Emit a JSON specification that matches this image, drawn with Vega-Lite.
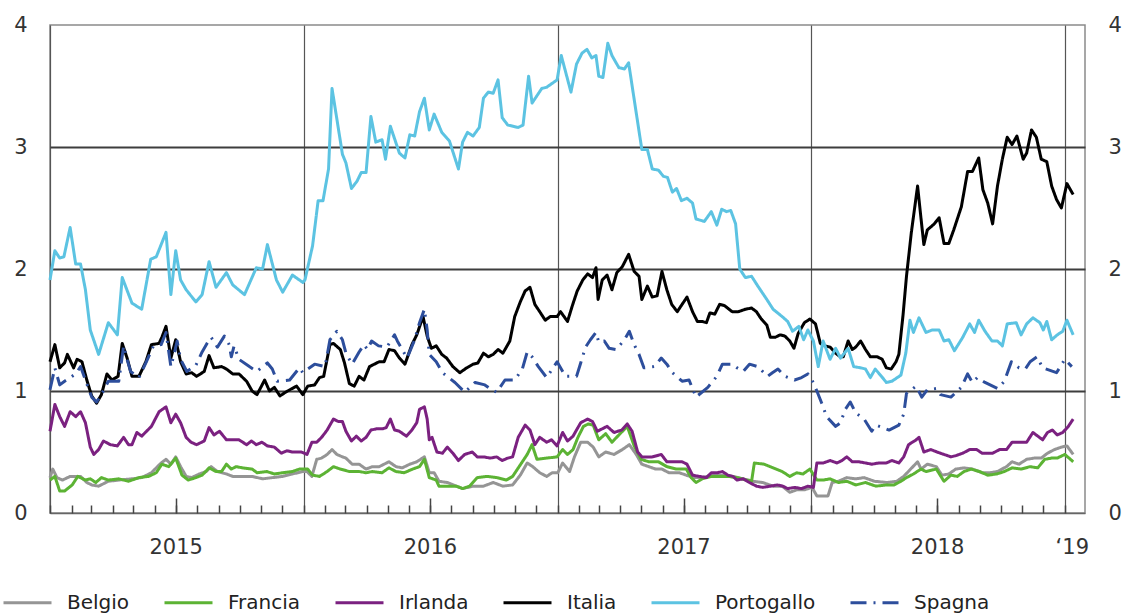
{
"$schema":"https://vega.github.io/schema/vega-lite/v6.json",
"width":1035,"height":488,
"autosize":{"type":"none"},
"padding":{"left":50,"top":25,"right":37,"bottom":101},
"background":"white",
"config":{
 "view":{"stroke":"#8a8a8a","strokeWidth":1.5},
 "axis":{"labelFont":"DejaVu Sans","labelFontSize":21,"labelColor":"#333333","title":null},
 "legend":{"symbolType":"stroke","symbolSize":2304,"symbolStrokeWidth":3,"labelFont":"DejaVu Sans","labelFontSize":20,"labelColor":"#222222","columnPadding":28,"labelOffset":14}
},
"data":{"values":[
{"s":"Belgio","d":"2015-01-01","v":0.29},{"s":"Belgio","d":"2015-01-05","v":0.36},{"s":"Belgio","d":"2015-01-11","v":0.29},{"s":"Belgio","d":"2015-01-19","v":0.27},{"s":"Belgio","d":"2015-01-30","v":0.30},{"s":"Belgio","d":"2015-02-14","v":0.30},{"s":"Belgio","d":"2015-02-23","v":0.25},{"s":"Belgio","d":"2015-03-02","v":0.23},{"s":"Belgio","d":"2015-03-12","v":0.22},{"s":"Belgio","d":"2015-03-26","v":0.26},{"s":"Belgio","d":"2015-04-10","v":0.27},{"s":"Belgio","d":"2015-04-29","v":0.28},{"s":"Belgio","d":"2015-05-13","v":0.29},{"s":"Belgio","d":"2015-05-27","v":0.33},{"s":"Belgio","d":"2015-06-10","v":0.41},{"s":"Belgio","d":"2015-06-17","v":0.44},{"s":"Belgio","d":"2015-06-24","v":0.40},{"s":"Belgio","d":"2015-07-01","v":0.46},{"s":"Belgio","d":"2015-07-08","v":0.38},{"s":"Belgio","d":"2015-07-16","v":0.30},{"s":"Belgio","d":"2015-07-24","v":0.29},{"s":"Belgio","d":"2015-08-04","v":0.32},{"s":"Belgio","d":"2015-08-14","v":0.34},{"s":"Belgio","d":"2015-08-21","v":0.38},{"s":"Belgio","d":"2015-08-30","v":0.34},{"s":"Belgio","d":"2015-09-12","v":0.32},{"s":"Belgio","d":"2015-09-21","v":0.30},{"s":"Belgio","d":"2015-10-05","v":0.30},{"s":"Belgio","d":"2015-10-19","v":0.30},{"s":"Belgio","d":"2015-11-03","v":0.28},{"s":"Belgio","d":"2015-11-17","v":0.29},{"s":"Belgio","d":"2015-12-02","v":0.30},{"s":"Belgio","d":"2015-12-16","v":0.32},{"s":"Belgio","d":"2015-12-31","v":0.34},
{"s":"Belgio","d":"2016-01-06","v":0.34},{"s":"Belgio","d":"2016-01-13","v":0.30},{"s":"Belgio","d":"2016-01-20","v":0.44},{"s":"Belgio","d":"2016-01-27","v":0.45},{"s":"Belgio","d":"2016-02-04","v":0.48},{"s":"Belgio","d":"2016-02-11","v":0.52},{"s":"Belgio","d":"2016-02-18","v":0.48},{"s":"Belgio","d":"2016-02-26","v":0.46},{"s":"Belgio","d":"2016-03-02","v":0.45},{"s":"Belgio","d":"2016-03-11","v":0.40},{"s":"Belgio","d":"2016-03-21","v":0.40},{"s":"Belgio","d":"2016-03-31","v":0.36},{"s":"Belgio","d":"2016-04-09","v":0.38},{"s":"Belgio","d":"2016-04-19","v":0.38},{"s":"Belgio","d":"2016-05-03","v":0.42},{"s":"Belgio","d":"2016-05-13","v":0.38},{"s":"Belgio","d":"2016-05-22","v":0.37},{"s":"Belgio","d":"2016-06-02","v":0.40},{"s":"Belgio","d":"2016-06-12","v":0.42},{"s":"Belgio","d":"2016-06-23","v":0.46},{"s":"Belgio","d":"2016-06-30","v":0.33},{"s":"Belgio","d":"2016-07-07","v":0.33},{"s":"Belgio","d":"2016-07-14","v":0.26},{"s":"Belgio","d":"2016-07-26","v":0.25},{"s":"Belgio","d":"2016-08-08","v":0.22},{"s":"Belgio","d":"2016-08-17","v":0.20},{"s":"Belgio","d":"2016-09-01","v":0.22},{"s":"Belgio","d":"2016-09-16","v":0.22},{"s":"Belgio","d":"2016-09-30","v":0.25},{"s":"Belgio","d":"2016-10-14","v":0.22},{"s":"Belgio","d":"2016-10-28","v":0.23},{"s":"Belgio","d":"2016-11-08","v":0.31},{"s":"Belgio","d":"2016-11-18","v":0.41},{"s":"Belgio","d":"2016-11-26","v":0.38},{"s":"Belgio","d":"2016-12-06","v":0.33},{"s":"Belgio","d":"2016-12-16","v":0.30},{"s":"Belgio","d":"2016-12-24","v":0.33},
{"s":"Belgio","d":"2017-01-01","v":0.33},{"s":"Belgio","d":"2017-01-08","v":0.41},{"s":"Belgio","d":"2017-01-18","v":0.34},{"s":"Belgio","d":"2017-01-25","v":0.46},{"s":"Belgio","d":"2017-02-03","v":0.58},{"s":"Belgio","d":"2017-02-13","v":0.58},{"s":"Belgio","d":"2017-02-21","v":0.54},{"s":"Belgio","d":"2017-03-01","v":0.46},{"s":"Belgio","d":"2017-03-11","v":0.50},{"s":"Belgio","d":"2017-03-23","v":0.48},{"s":"Belgio","d":"2017-04-04","v":0.52},{"s":"Belgio","d":"2017-04-14","v":0.56},{"s":"Belgio","d":"2017-04-24","v":0.48},{"s":"Belgio","d":"2017-05-02","v":0.40},{"s":"Belgio","d":"2017-05-12","v":0.38},{"s":"Belgio","d":"2017-05-22","v":0.36},{"s":"Belgio","d":"2017-05-31","v":0.36},{"s":"Belgio","d":"2017-06-10","v":0.33},{"s":"Belgio","d":"2017-06-25","v":0.33},{"s":"Belgio","d":"2017-07-05","v":0.31},{"s":"Belgio","d":"2017-07-16","v":0.29},{"s":"Belgio","d":"2017-07-28","v":0.29},{"s":"Belgio","d":"2017-08-12","v":0.31},{"s":"Belgio","d":"2017-08-26","v":0.31},{"s":"Belgio","d":"2017-09-10","v":0.30},{"s":"Belgio","d":"2017-09-25","v":0.28},{"s":"Belgio","d":"2017-10-09","v":0.26},{"s":"Belgio","d":"2017-10-23","v":0.25},{"s":"Belgio","d":"2017-11-07","v":0.22},{"s":"Belgio","d":"2017-11-20","v":0.22},{"s":"Belgio","d":"2017-12-01","v":0.17},{"s":"Belgio","d":"2017-12-11","v":0.19},{"s":"Belgio","d":"2017-12-22","v":0.19},
{"s":"Belgio","d":"2018-01-02","v":0.21},{"s":"Belgio","d":"2018-01-09","v":0.14},{"s":"Belgio","d":"2018-01-16","v":0.14},{"s":"Belgio","d":"2018-01-25","v":0.14},{"s":"Belgio","d":"2018-01-31","v":0.25},{"s":"Belgio","d":"2018-02-09","v":0.26},{"s":"Belgio","d":"2018-02-21","v":0.29},{"s":"Belgio","d":"2018-03-06","v":0.28},{"s":"Belgio","d":"2018-03-18","v":0.29},{"s":"Belgio","d":"2018-04-02","v":0.26},{"s":"Belgio","d":"2018-04-20","v":0.25},{"s":"Belgio","d":"2018-05-04","v":0.26},{"s":"Belgio","d":"2018-05-14","v":0.30},{"s":"Belgio","d":"2018-05-24","v":0.36},{"s":"Belgio","d":"2018-06-03","v":0.42},{"s":"Belgio","d":"2018-06-08","v":0.36},{"s":"Belgio","d":"2018-06-17","v":0.40},{"s":"Belgio","d":"2018-06-30","v":0.38},{"s":"Belgio","d":"2018-07-08","v":0.31},{"s":"Belgio","d":"2018-07-18","v":0.32},{"s":"Belgio","d":"2018-07-28","v":0.36},{"s":"Belgio","d":"2018-08-09","v":0.37},{"s":"Belgio","d":"2018-08-21","v":0.36},{"s":"Belgio","d":"2018-09-04","v":0.33},{"s":"Belgio","d":"2018-09-15","v":0.33},{"s":"Belgio","d":"2018-09-26","v":0.34},{"s":"Belgio","d":"2018-10-09","v":0.38},{"s":"Belgio","d":"2018-10-17","v":0.42},{"s":"Belgio","d":"2018-10-27","v":0.40},{"s":"Belgio","d":"2018-11-07","v":0.44},{"s":"Belgio","d":"2018-11-18","v":0.45},{"s":"Belgio","d":"2018-11-28","v":0.45},{"s":"Belgio","d":"2018-12-07","v":0.49},{"s":"Belgio","d":"2018-12-17","v":0.52},{"s":"Belgio","d":"2018-12-27","v":0.54},{"s":"Belgio","d":"2019-01-04","v":0.55},{"s":"Belgio","d":"2019-01-13","v":0.48},
{"s":"Francia","d":"2015-01-01","v":0.27},{"s":"Francia","d":"2015-01-08","v":0.30},{"s":"Francia","d":"2015-01-15","v":0.18},{"s":"Francia","d":"2015-01-22","v":0.18},{"s":"Francia","d":"2015-02-02","v":0.23},{"s":"Francia","d":"2015-02-10","v":0.30},{"s":"Francia","d":"2015-02-21","v":0.27},{"s":"Francia","d":"2015-02-28","v":0.28},{"s":"Francia","d":"2015-03-08","v":0.25},{"s":"Francia","d":"2015-03-16","v":0.29},{"s":"Francia","d":"2015-03-26","v":0.27},{"s":"Francia","d":"2015-04-10","v":0.28},{"s":"Francia","d":"2015-04-24","v":0.26},{"s":"Francia","d":"2015-05-09","v":0.29},{"s":"Francia","d":"2015-05-23","v":0.30},{"s":"Francia","d":"2015-06-03","v":0.33},{"s":"Francia","d":"2015-06-11","v":0.40},{"s":"Francia","d":"2015-06-21","v":0.38},{"s":"Francia","d":"2015-07-01","v":0.45},{"s":"Francia","d":"2015-07-10","v":0.31},{"s":"Francia","d":"2015-07-19","v":0.27},{"s":"Francia","d":"2015-07-30","v":0.29},{"s":"Francia","d":"2015-08-08","v":0.31},{"s":"Francia","d":"2015-08-18","v":0.37},{"s":"Francia","d":"2015-08-28","v":0.34},{"s":"Francia","d":"2015-09-05","v":0.34},{"s":"Francia","d":"2015-09-12","v":0.40},{"s":"Francia","d":"2015-09-19","v":0.36},{"s":"Francia","d":"2015-09-26","v":0.38},{"s":"Francia","d":"2015-10-05","v":0.37},{"s":"Francia","d":"2015-10-19","v":0.36},{"s":"Francia","d":"2015-10-26","v":0.33},{"s":"Francia","d":"2015-11-09","v":0.34},{"s":"Francia","d":"2015-11-20","v":0.32},{"s":"Francia","d":"2015-12-02","v":0.33},{"s":"Francia","d":"2015-12-16","v":0.34},{"s":"Francia","d":"2015-12-26","v":0.36},
{"s":"Francia","d":"2016-01-07","v":0.36},{"s":"Francia","d":"2016-01-14","v":0.31},{"s":"Francia","d":"2016-01-24","v":0.30},{"s":"Francia","d":"2016-02-04","v":0.34},{"s":"Francia","d":"2016-02-13","v":0.38},{"s":"Francia","d":"2016-02-23","v":0.36},{"s":"Francia","d":"2016-03-07","v":0.34},{"s":"Francia","d":"2016-03-21","v":0.34},{"s":"Francia","d":"2016-03-31","v":0.33},{"s":"Francia","d":"2016-04-09","v":0.34},{"s":"Francia","d":"2016-04-23","v":0.33},{"s":"Francia","d":"2016-05-03","v":0.37},{"s":"Francia","d":"2016-05-13","v":0.34},{"s":"Francia","d":"2016-05-25","v":0.33},{"s":"Francia","d":"2016-06-06","v":0.36},{"s":"Francia","d":"2016-06-16","v":0.38},{"s":"Francia","d":"2016-06-23","v":0.44},{"s":"Francia","d":"2016-06-30","v":0.29},{"s":"Francia","d":"2016-07-10","v":0.27},{"s":"Francia","d":"2016-07-14","v":0.22},{"s":"Francia","d":"2016-07-26","v":0.22},{"s":"Francia","d":"2016-08-08","v":0.22},{"s":"Francia","d":"2016-08-17","v":0.20},{"s":"Francia","d":"2016-08-27","v":0.22},{"s":"Francia","d":"2016-09-07","v":0.29},{"s":"Francia","d":"2016-09-21","v":0.30},{"s":"Francia","d":"2016-10-05","v":0.29},{"s":"Francia","d":"2016-10-19","v":0.27},{"s":"Francia","d":"2016-10-28","v":0.30},{"s":"Francia","d":"2016-11-11","v":0.42},{"s":"Francia","d":"2016-11-18","v":0.48},{"s":"Francia","d":"2016-11-25","v":0.56},{"s":"Francia","d":"2016-12-02","v":0.44},{"s":"Francia","d":"2016-12-16","v":0.45},{"s":"Francia","d":"2016-12-31","v":0.46},
{"s":"Francia","d":"2017-01-08","v":0.52},{"s":"Francia","d":"2017-01-15","v":0.48},{"s":"Francia","d":"2017-01-23","v":0.52},{"s":"Francia","d":"2017-01-30","v":0.62},{"s":"Francia","d":"2017-02-07","v":0.71},{"s":"Francia","d":"2017-02-14","v":0.73},{"s":"Francia","d":"2017-02-21","v":0.72},{"s":"Francia","d":"2017-03-01","v":0.60},{"s":"Francia","d":"2017-03-11","v":0.65},{"s":"Francia","d":"2017-03-20","v":0.58},{"s":"Francia","d":"2017-03-30","v":0.64},{"s":"Francia","d":"2017-04-11","v":0.71},{"s":"Francia","d":"2017-04-21","v":0.55},{"s":"Francia","d":"2017-05-01","v":0.44},{"s":"Francia","d":"2017-05-12","v":0.42},{"s":"Francia","d":"2017-05-26","v":0.42},{"s":"Francia","d":"2017-06-07","v":0.38},{"s":"Francia","d":"2017-06-21","v":0.36},{"s":"Francia","d":"2017-07-05","v":0.36},{"s":"Francia","d":"2017-07-12","v":0.29},{"s":"Francia","d":"2017-07-19","v":0.25},{"s":"Francia","d":"2017-07-28","v":0.28},{"s":"Francia","d":"2017-08-10","v":0.30},{"s":"Francia","d":"2017-08-22","v":0.30},{"s":"Francia","d":"2017-09-03","v":0.30},{"s":"Francia","d":"2017-09-16","v":0.29},{"s":"Francia","d":"2017-09-30","v":0.27},{"s":"Francia","d":"2017-10-07","v":0.26},{"s":"Francia","d":"2017-10-11","v":0.41},{"s":"Francia","d":"2017-10-25","v":0.40},{"s":"Francia","d":"2017-11-07","v":0.37},{"s":"Francia","d":"2017-11-20","v":0.34},{"s":"Francia","d":"2017-12-01","v":0.30},{"s":"Francia","d":"2017-12-11","v":0.33},{"s":"Francia","d":"2017-12-20","v":0.32},{"s":"Francia","d":"2017-12-30","v":0.36},
{"s":"Francia","d":"2018-01-09","v":0.27},{"s":"Francia","d":"2018-01-18","v":0.27},{"s":"Francia","d":"2018-01-28","v":0.28},{"s":"Francia","d":"2018-02-09","v":0.25},{"s":"Francia","d":"2018-02-21","v":0.26},{"s":"Francia","d":"2018-03-06","v":0.23},{"s":"Francia","d":"2018-03-20","v":0.25},{"s":"Francia","d":"2018-04-04","v":0.22},{"s":"Francia","d":"2018-04-19","v":0.23},{"s":"Francia","d":"2018-04-30","v":0.23},{"s":"Francia","d":"2018-05-10","v":0.26},{"s":"Francia","d":"2018-05-18","v":0.29},{"s":"Francia","d":"2018-05-28","v":0.32},{"s":"Francia","d":"2018-06-08","v":0.36},{"s":"Francia","d":"2018-06-15","v":0.34},{"s":"Francia","d":"2018-06-30","v":0.36},{"s":"Francia","d":"2018-07-11","v":0.26},{"s":"Francia","d":"2018-07-21","v":0.31},{"s":"Francia","d":"2018-07-30","v":0.30},{"s":"Francia","d":"2018-08-09","v":0.34},{"s":"Francia","d":"2018-08-19","v":0.36},{"s":"Francia","d":"2018-08-31","v":0.34},{"s":"Francia","d":"2018-09-12","v":0.31},{"s":"Francia","d":"2018-09-25","v":0.32},{"s":"Francia","d":"2018-10-06","v":0.34},{"s":"Francia","d":"2018-10-17","v":0.37},{"s":"Francia","d":"2018-10-30","v":0.36},{"s":"Francia","d":"2018-11-12","v":0.38},{"s":"Francia","d":"2018-11-23","v":0.37},{"s":"Francia","d":"2018-12-03","v":0.44},{"s":"Francia","d":"2018-12-13","v":0.45},{"s":"Francia","d":"2018-12-21","v":0.45},{"s":"Francia","d":"2019-01-01","v":0.48},{"s":"Francia","d":"2019-01-13","v":0.42},
{"s":"Irlanda","d":"2015-01-01","v":0.67},{"s":"Irlanda","d":"2015-01-08","v":0.89},{"s":"Irlanda","d":"2015-01-15","v":0.79},{"s":"Irlanda","d":"2015-01-22","v":0.71},{"s":"Irlanda","d":"2015-01-30","v":0.83},{"s":"Irlanda","d":"2015-02-07","v":0.79},{"s":"Irlanda","d":"2015-02-14","v":0.83},{"s":"Irlanda","d":"2015-02-21","v":0.74},{"s":"Irlanda","d":"2015-02-28","v":0.54},{"s":"Irlanda","d":"2015-03-05","v":0.48},{"s":"Irlanda","d":"2015-03-12","v":0.52},{"s":"Irlanda","d":"2015-03-19","v":0.59},{"s":"Irlanda","d":"2015-03-29","v":0.56},{"s":"Irlanda","d":"2015-04-08","v":0.55},{"s":"Irlanda","d":"2015-04-17","v":0.62},{"s":"Irlanda","d":"2015-04-24","v":0.56},{"s":"Irlanda","d":"2015-04-29","v":0.56},{"s":"Irlanda","d":"2015-05-06","v":0.66},{"s":"Irlanda","d":"2015-05-13","v":0.63},{"s":"Irlanda","d":"2015-05-20","v":0.67},{"s":"Irlanda","d":"2015-05-27","v":0.71},{"s":"Irlanda","d":"2015-06-07","v":0.83},{"s":"Irlanda","d":"2015-06-17","v":0.87},{"s":"Irlanda","d":"2015-06-24","v":0.74},{"s":"Irlanda","d":"2015-07-01","v":0.81},{"s":"Irlanda","d":"2015-07-08","v":0.74},{"s":"Irlanda","d":"2015-07-16","v":0.62},{"s":"Irlanda","d":"2015-07-23","v":0.58},{"s":"Irlanda","d":"2015-07-31","v":0.56},{"s":"Irlanda","d":"2015-08-11","v":0.59},{"s":"Irlanda","d":"2015-08-18","v":0.70},{"s":"Irlanda","d":"2015-08-25","v":0.64},{"s":"Irlanda","d":"2015-09-02","v":0.67},{"s":"Irlanda","d":"2015-09-12","v":0.60},{"s":"Irlanda","d":"2015-09-21","v":0.60},{"s":"Irlanda","d":"2015-09-30","v":0.60},{"s":"Irlanda","d":"2015-10-11","v":0.56},{"s":"Irlanda","d":"2015-10-18","v":0.59},{"s":"Irlanda","d":"2015-10-25","v":0.56},{"s":"Irlanda","d":"2015-11-02","v":0.58},{"s":"Irlanda","d":"2015-11-10","v":0.55},{"s":"Irlanda","d":"2015-11-20","v":0.54},{"s":"Irlanda","d":"2015-11-30","v":0.49},{"s":"Irlanda","d":"2015-12-08","v":0.51},{"s":"Irlanda","d":"2015-12-16","v":0.50},{"s":"Irlanda","d":"2015-12-29","v":0.50},
{"s":"Irlanda","d":"2016-01-06","v":0.48},{"s":"Irlanda","d":"2016-01-13","v":0.58},{"s":"Irlanda","d":"2016-01-20","v":0.58},{"s":"Irlanda","d":"2016-01-27","v":0.62},{"s":"Irlanda","d":"2016-02-04","v":0.68},{"s":"Irlanda","d":"2016-02-13","v":0.77},{"s":"Irlanda","d":"2016-02-20","v":0.75},{"s":"Irlanda","d":"2016-02-26","v":0.75},{"s":"Irlanda","d":"2016-03-02","v":0.67},{"s":"Irlanda","d":"2016-03-10","v":0.59},{"s":"Irlanda","d":"2016-03-17","v":0.63},{"s":"Irlanda","d":"2016-03-24","v":0.59},{"s":"Irlanda","d":"2016-03-31","v":0.62},{"s":"Irlanda","d":"2016-04-07","v":0.68},{"s":"Irlanda","d":"2016-04-15","v":0.69},{"s":"Irlanda","d":"2016-04-24","v":0.69},{"s":"Irlanda","d":"2016-04-29","v":0.70},{"s":"Irlanda","d":"2016-05-05","v":0.77},{"s":"Irlanda","d":"2016-05-11","v":0.68},{"s":"Irlanda","d":"2016-05-18","v":0.67},{"s":"Irlanda","d":"2016-05-28","v":0.63},{"s":"Irlanda","d":"2016-06-05","v":0.68},{"s":"Irlanda","d":"2016-06-12","v":0.74},{"s":"Irlanda","d":"2016-06-16","v":0.85},{"s":"Irlanda","d":"2016-06-23","v":0.87},{"s":"Irlanda","d":"2016-06-27","v":0.77},{"s":"Irlanda","d":"2016-06-30","v":0.60},{"s":"Irlanda","d":"2016-07-04","v":0.62},{"s":"Irlanda","d":"2016-07-11","v":0.50},{"s":"Irlanda","d":"2016-07-19","v":0.49},{"s":"Irlanda","d":"2016-07-26","v":0.54},{"s":"Irlanda","d":"2016-08-03","v":0.49},{"s":"Irlanda","d":"2016-08-11","v":0.43},{"s":"Irlanda","d":"2016-08-20","v":0.48},{"s":"Irlanda","d":"2016-08-31","v":0.50},{"s":"Irlanda","d":"2016-09-07","v":0.46},{"s":"Irlanda","d":"2016-09-16","v":0.46},{"s":"Irlanda","d":"2016-09-26","v":0.45},{"s":"Irlanda","d":"2016-10-05","v":0.46},{"s":"Irlanda","d":"2016-10-13","v":0.43},{"s":"Irlanda","d":"2016-10-21","v":0.45},{"s":"Irlanda","d":"2016-10-28","v":0.46},{"s":"Irlanda","d":"2016-11-05","v":0.62},{"s":"Irlanda","d":"2016-11-15","v":0.72},{"s":"Irlanda","d":"2016-11-22","v":0.68},{"s":"Irlanda","d":"2016-11-29","v":0.56},{"s":"Irlanda","d":"2016-12-06","v":0.62},{"s":"Irlanda","d":"2016-12-16","v":0.58},{"s":"Irlanda","d":"2016-12-23","v":0.60},{"s":"Irlanda","d":"2016-12-31","v":0.55},
{"s":"Irlanda","d":"2017-01-08","v":0.66},{"s":"Irlanda","d":"2017-01-15","v":0.59},{"s":"Irlanda","d":"2017-01-23","v":0.63},{"s":"Irlanda","d":"2017-02-03","v":0.74},{"s":"Irlanda","d":"2017-02-13","v":0.77},{"s":"Irlanda","d":"2017-02-20","v":0.75},{"s":"Irlanda","d":"2017-02-27","v":0.67},{"s":"Irlanda","d":"2017-03-13","v":0.71},{"s":"Irlanda","d":"2017-03-23","v":0.66},{"s":"Irlanda","d":"2017-04-03","v":0.68},{"s":"Irlanda","d":"2017-04-11","v":0.73},{"s":"Irlanda","d":"2017-04-18","v":0.67},{"s":"Irlanda","d":"2017-04-26","v":0.50},{"s":"Irlanda","d":"2017-05-02","v":0.46},{"s":"Irlanda","d":"2017-05-17","v":0.46},{"s":"Irlanda","d":"2017-05-30","v":0.48},{"s":"Irlanda","d":"2017-06-07","v":0.42},{"s":"Irlanda","d":"2017-06-15","v":0.42},{"s":"Irlanda","d":"2017-06-29","v":0.42},{"s":"Irlanda","d":"2017-07-06","v":0.40},{"s":"Irlanda","d":"2017-07-14","v":0.31},{"s":"Irlanda","d":"2017-07-24","v":0.30},{"s":"Irlanda","d":"2017-08-03","v":0.29},{"s":"Irlanda","d":"2017-08-10","v":0.33},{"s":"Irlanda","d":"2017-08-19","v":0.33},{"s":"Irlanda","d":"2017-08-26","v":0.34},{"s":"Irlanda","d":"2017-09-03","v":0.31},{"s":"Irlanda","d":"2017-09-10","v":0.30},{"s":"Irlanda","d":"2017-09-16","v":0.27},{"s":"Irlanda","d":"2017-09-25","v":0.28},{"s":"Irlanda","d":"2017-10-04","v":0.25},{"s":"Irlanda","d":"2017-10-14","v":0.22},{"s":"Irlanda","d":"2017-10-23","v":0.21},{"s":"Irlanda","d":"2017-11-03","v":0.22},{"s":"Irlanda","d":"2017-11-13","v":0.23},{"s":"Irlanda","d":"2017-11-21","v":0.22},{"s":"Irlanda","d":"2017-11-28","v":0.20},{"s":"Irlanda","d":"2017-12-08","v":0.21},{"s":"Irlanda","d":"2017-12-18","v":0.20},{"s":"Irlanda","d":"2017-12-27","v":0.22},
{"s":"Irlanda","d":"2018-01-04","v":0.21},{"s":"Irlanda","d":"2018-01-09","v":0.41},{"s":"Irlanda","d":"2018-01-18","v":0.41},{"s":"Irlanda","d":"2018-01-28","v":0.43},{"s":"Irlanda","d":"2018-02-07","v":0.41},{"s":"Irlanda","d":"2018-02-14","v":0.43},{"s":"Irlanda","d":"2018-02-21","v":0.46},{"s":"Irlanda","d":"2018-03-01","v":0.42},{"s":"Irlanda","d":"2018-03-10","v":0.42},{"s":"Irlanda","d":"2018-03-20","v":0.41},{"s":"Irlanda","d":"2018-03-29","v":0.40},{"s":"Irlanda","d":"2018-04-08","v":0.41},{"s":"Irlanda","d":"2018-04-19","v":0.41},{"s":"Irlanda","d":"2018-04-27","v":0.43},{"s":"Irlanda","d":"2018-05-07","v":0.41},{"s":"Irlanda","d":"2018-05-14","v":0.46},{"s":"Irlanda","d":"2018-05-21","v":0.56},{"s":"Irlanda","d":"2018-06-01","v":0.60},{"s":"Irlanda","d":"2018-06-05","v":0.62},{"s":"Irlanda","d":"2018-06-12","v":0.50},{"s":"Irlanda","d":"2018-06-22","v":0.52},{"s":"Irlanda","d":"2018-07-01","v":0.50},{"s":"Irlanda","d":"2018-07-11","v":0.48},{"s":"Irlanda","d":"2018-07-21","v":0.46},{"s":"Irlanda","d":"2018-07-28","v":0.47},{"s":"Irlanda","d":"2018-08-07","v":0.49},{"s":"Irlanda","d":"2018-08-17","v":0.52},{"s":"Irlanda","d":"2018-08-27","v":0.52},{"s":"Irlanda","d":"2018-09-04","v":0.49},{"s":"Irlanda","d":"2018-09-12","v":0.49},{"s":"Irlanda","d":"2018-09-19","v":0.49},{"s":"Irlanda","d":"2018-09-29","v":0.52},{"s":"Irlanda","d":"2018-10-09","v":0.52},{"s":"Irlanda","d":"2018-10-17","v":0.58},{"s":"Irlanda","d":"2018-10-27","v":0.58},{"s":"Irlanda","d":"2018-11-07","v":0.58},{"s":"Irlanda","d":"2018-11-16","v":0.66},{"s":"Irlanda","d":"2018-11-23","v":0.63},{"s":"Irlanda","d":"2018-11-30","v":0.60},{"s":"Irlanda","d":"2018-12-07","v":0.66},{"s":"Irlanda","d":"2018-12-14","v":0.68},{"s":"Irlanda","d":"2018-12-21","v":0.64},{"s":"Irlanda","d":"2018-12-29","v":0.66},{"s":"Irlanda","d":"2019-01-06","v":0.71},{"s":"Irlanda","d":"2019-01-13","v":0.77},
{"s":"Italia","d":"2015-01-01","v":1.24},{"s":"Italia","d":"2015-01-08","v":1.38},{"s":"Italia","d":"2015-01-15","v":1.19},{"s":"Italia","d":"2015-01-22","v":1.23},{"s":"Italia","d":"2015-01-26","v":1.30},{"s":"Italia","d":"2015-02-04","v":1.19},{"s":"Italia","d":"2015-02-09","v":1.26},{"s":"Italia","d":"2015-02-16","v":1.24},{"s":"Italia","d":"2015-02-23","v":1.09},{"s":"Italia","d":"2015-03-02","v":0.96},{"s":"Italia","d":"2015-03-09","v":0.90},{"s":"Italia","d":"2015-03-16","v":0.97},{"s":"Italia","d":"2015-03-24","v":1.14},{"s":"Italia","d":"2015-03-31","v":1.09},{"s":"Italia","d":"2015-04-09","v":1.12},{"s":"Italia","d":"2015-04-15","v":1.39},{"s":"Italia","d":"2015-04-22","v":1.27},{"s":"Italia","d":"2015-04-29","v":1.12},{"s":"Italia","d":"2015-05-09","v":1.12},{"s":"Italia","d":"2015-05-19","v":1.24},{"s":"Italia","d":"2015-05-27","v":1.38},{"s":"Italia","d":"2015-06-07","v":1.39},{"s":"Italia","d":"2015-06-11","v":1.44},{"s":"Italia","d":"2015-06-17","v":1.53},{"s":"Italia","d":"2015-06-24","v":1.27},{"s":"Italia","d":"2015-07-01","v":1.42},{"s":"Italia","d":"2015-07-08","v":1.24},{"s":"Italia","d":"2015-07-16","v":1.14},{"s":"Italia","d":"2015-07-24","v":1.15},{"s":"Italia","d":"2015-07-31","v":1.12},{"s":"Italia","d":"2015-08-11","v":1.16},{"s":"Italia","d":"2015-08-18","v":1.29},{"s":"Italia","d":"2015-08-25","v":1.19},{"s":"Italia","d":"2015-09-05","v":1.20},{"s":"Italia","d":"2015-09-12","v":1.18},{"s":"Italia","d":"2015-09-21","v":1.14},{"s":"Italia","d":"2015-09-30","v":1.14},{"s":"Italia","d":"2015-10-11","v":1.08},{"s":"Italia","d":"2015-10-19","v":1.00},{"s":"Italia","d":"2015-10-26","v":0.97},{"s":"Italia","d":"2015-11-06","v":1.09},{"s":"Italia","d":"2015-11-13","v":1.00},{"s":"Italia","d":"2015-11-20","v":1.03},{"s":"Italia","d":"2015-11-28","v":0.96},{"s":"Italia","d":"2015-12-09","v":1.00},{"s":"Italia","d":"2015-12-22","v":1.04},{"s":"Italia","d":"2015-12-31","v":0.97},
{"s":"Italia","d":"2016-01-07","v":1.04},{"s":"Italia","d":"2016-01-17","v":1.05},{"s":"Italia","d":"2016-01-24","v":1.11},{"s":"Italia","d":"2016-01-30","v":1.12},{"s":"Italia","d":"2016-02-08","v":1.38},{"s":"Italia","d":"2016-02-13","v":1.39},{"s":"Italia","d":"2016-02-23","v":1.34},{"s":"Italia","d":"2016-02-29","v":1.23},{"s":"Italia","d":"2016-03-07","v":1.06},{"s":"Italia","d":"2016-03-14","v":1.04},{"s":"Italia","d":"2016-03-21","v":1.12},{"s":"Italia","d":"2016-03-28","v":1.09},{"s":"Italia","d":"2016-04-05","v":1.20},{"s":"Italia","d":"2016-04-12","v":1.22},{"s":"Italia","d":"2016-04-19","v":1.24},{"s":"Italia","d":"2016-04-26","v":1.24},{"s":"Italia","d":"2016-05-03","v":1.34},{"s":"Italia","d":"2016-05-11","v":1.33},{"s":"Italia","d":"2016-05-18","v":1.27},{"s":"Italia","d":"2016-05-26","v":1.22},{"s":"Italia","d":"2016-06-05","v":1.38},{"s":"Italia","d":"2016-06-12","v":1.46},{"s":"Italia","d":"2016-06-18","v":1.56},{"s":"Italia","d":"2016-06-21","v":1.61},{"s":"Italia","d":"2016-06-27","v":1.45},{"s":"Italia","d":"2016-07-03","v":1.35},{"s":"Italia","d":"2016-07-10","v":1.37},{"s":"Italia","d":"2016-07-18","v":1.30},{"s":"Italia","d":"2016-07-25","v":1.27},{"s":"Italia","d":"2016-08-03","v":1.20},{"s":"Italia","d":"2016-08-13","v":1.15},{"s":"Italia","d":"2016-08-23","v":1.19},{"s":"Italia","d":"2016-09-01","v":1.22},{"s":"Italia","d":"2016-09-08","v":1.23},{"s":"Italia","d":"2016-09-16","v":1.31},{"s":"Italia","d":"2016-09-23","v":1.28},{"s":"Italia","d":"2016-09-30","v":1.30},{"s":"Italia","d":"2016-10-07","v":1.34},{"s":"Italia","d":"2016-10-14","v":1.31},{"s":"Italia","d":"2016-10-24","v":1.41},{"s":"Italia","d":"2016-10-31","v":1.61},{"s":"Italia","d":"2016-11-08","v":1.73},{"s":"Italia","d":"2016-11-15","v":1.82},{"s":"Italia","d":"2016-11-22","v":1.85},{"s":"Italia","d":"2016-11-29","v":1.71},{"s":"Italia","d":"2016-12-06","v":1.65},{"s":"Italia","d":"2016-12-14","v":1.58},{"s":"Italia","d":"2016-12-21","v":1.61},{"s":"Italia","d":"2016-12-31","v":1.61},
{"s":"Italia","d":"2017-01-05","v":1.65},{"s":"Italia","d":"2017-01-15","v":1.57},{"s":"Italia","d":"2017-01-22","v":1.70},{"s":"Italia","d":"2017-01-29","v":1.82},{"s":"Italia","d":"2017-02-06","v":1.91},{"s":"Italia","d":"2017-02-13","v":1.96},{"s":"Italia","d":"2017-02-20","v":1.93},{"s":"Italia","d":"2017-02-25","v":2.01},{"s":"Italia","d":"2017-02-28","v":1.75},{"s":"Italia","d":"2017-03-06","v":1.91},{"s":"Italia","d":"2017-03-13","v":1.95},{"s":"Italia","d":"2017-03-20","v":1.83},{"s":"Italia","d":"2017-03-27","v":1.97},{"s":"Italia","d":"2017-04-04","v":2.02},{"s":"Italia","d":"2017-04-13","v":2.12},{"s":"Italia","d":"2017-04-21","v":1.98},{"s":"Italia","d":"2017-04-28","v":1.94},{"s":"Italia","d":"2017-05-02","v":1.75},{"s":"Italia","d":"2017-05-10","v":1.86},{"s":"Italia","d":"2017-05-17","v":1.77},{"s":"Italia","d":"2017-05-24","v":1.78},{"s":"Italia","d":"2017-05-31","v":1.98},{"s":"Italia","d":"2017-06-07","v":1.83},{"s":"Italia","d":"2017-06-14","v":1.71},{"s":"Italia","d":"2017-06-22","v":1.65},{"s":"Italia","d":"2017-06-29","v":1.71},{"s":"Italia","d":"2017-07-06","v":1.77},{"s":"Italia","d":"2017-07-14","v":1.65},{"s":"Italia","d":"2017-07-21","v":1.57},{"s":"Italia","d":"2017-07-28","v":1.57},{"s":"Italia","d":"2017-08-03","v":1.56},{"s":"Italia","d":"2017-08-08","v":1.64},{"s":"Italia","d":"2017-08-15","v":1.63},{"s":"Italia","d":"2017-08-22","v":1.71},{"s":"Italia","d":"2017-08-29","v":1.70},{"s":"Italia","d":"2017-09-09","v":1.65},{"s":"Italia","d":"2017-09-18","v":1.65},{"s":"Italia","d":"2017-09-28","v":1.67},{"s":"Italia","d":"2017-10-07","v":1.68},{"s":"Italia","d":"2017-10-14","v":1.65},{"s":"Italia","d":"2017-10-21","v":1.59},{"s":"Italia","d":"2017-10-29","v":1.54},{"s":"Italia","d":"2017-11-03","v":1.44},{"s":"Italia","d":"2017-11-10","v":1.44},{"s":"Italia","d":"2017-11-17","v":1.46},{"s":"Italia","d":"2017-11-24","v":1.45},{"s":"Italia","d":"2017-12-01","v":1.41},{"s":"Italia","d":"2017-12-07","v":1.35},{"s":"Italia","d":"2017-12-13","v":1.47},{"s":"Italia","d":"2017-12-22","v":1.56},{"s":"Italia","d":"2017-12-30","v":1.59},
{"s":"Italia","d":"2018-01-07","v":1.55},{"s":"Italia","d":"2018-01-14","v":1.39},{"s":"Italia","d":"2018-01-21","v":1.37},{"s":"Italia","d":"2018-01-28","v":1.36},{"s":"Italia","d":"2018-02-05","v":1.31},{"s":"Italia","d":"2018-02-12","v":1.28},{"s":"Italia","d":"2018-02-16","v":1.28},{"s":"Italia","d":"2018-02-23","v":1.41},{"s":"Italia","d":"2018-03-01","v":1.34},{"s":"Italia","d":"2018-03-06","v":1.36},{"s":"Italia","d":"2018-03-13","v":1.41},{"s":"Italia","d":"2018-03-20","v":1.34},{"s":"Italia","d":"2018-03-27","v":1.28},{"s":"Italia","d":"2018-04-06","v":1.28},{"s":"Italia","d":"2018-04-13","v":1.26},{"s":"Italia","d":"2018-04-19","v":1.19},{"s":"Italia","d":"2018-04-26","v":1.18},{"s":"Italia","d":"2018-05-03","v":1.24},{"s":"Italia","d":"2018-05-07","v":1.30},{"s":"Italia","d":"2018-05-13","v":1.62},{"s":"Italia","d":"2018-05-18","v":1.94},{"s":"Italia","d":"2018-05-25","v":2.30},{"s":"Italia","d":"2018-06-03","v":2.68},{"s":"Italia","d":"2018-06-08","v":2.41},{"s":"Italia","d":"2018-06-12","v":2.20},{"s":"Italia","d":"2018-06-17","v":2.32},{"s":"Italia","d":"2018-06-27","v":2.37},{"s":"Italia","d":"2018-07-04","v":2.42},{"s":"Italia","d":"2018-07-11","v":2.21},{"s":"Italia","d":"2018-07-18","v":2.21},{"s":"Italia","d":"2018-07-25","v":2.32},{"s":"Italia","d":"2018-08-05","v":2.51},{"s":"Italia","d":"2018-08-14","v":2.80},{"s":"Italia","d":"2018-08-21","v":2.80},{"s":"Italia","d":"2018-08-30","v":2.91},{"s":"Italia","d":"2018-09-05","v":2.65},{"s":"Italia","d":"2018-09-12","v":2.54},{"s":"Italia","d":"2018-09-19","v":2.37},{"s":"Italia","d":"2018-09-26","v":2.68},{"s":"Italia","d":"2018-10-03","v":2.90},{"s":"Italia","d":"2018-10-10","v":3.08},{"s":"Italia","d":"2018-10-17","v":3.02},{"s":"Italia","d":"2018-10-24","v":3.09},{"s":"Italia","d":"2018-11-02","v":2.90},{"s":"Italia","d":"2018-11-07","v":2.95},{"s":"Italia","d":"2018-11-14","v":3.14},{"s":"Italia","d":"2018-11-21","v":3.08},{"s":"Italia","d":"2018-11-28","v":2.90},{"s":"Italia","d":"2018-12-06","v":2.88},{"s":"Italia","d":"2018-12-13","v":2.68},{"s":"Italia","d":"2018-12-20","v":2.57},{"s":"Italia","d":"2018-12-27","v":2.50},{"s":"Italia","d":"2019-01-04","v":2.70},{"s":"Italia","d":"2019-01-13","v":2.61},
{"s":"Portogallo","d":"2015-01-01","v":1.91},{"s":"Portogallo","d":"2015-01-08","v":2.15},{"s":"Portogallo","d":"2015-01-15","v":2.09},{"s":"Portogallo","d":"2015-01-21","v":2.10},{"s":"Portogallo","d":"2015-01-30","v":2.34},{"s":"Portogallo","d":"2015-02-07","v":2.04},{"s":"Portogallo","d":"2015-02-14","v":2.04},{"s":"Portogallo","d":"2015-02-21","v":1.83},{"s":"Portogallo","d":"2015-02-28","v":1.50},{"s":"Portogallo","d":"2015-03-12","v":1.30},{"s":"Portogallo","d":"2015-03-26","v":1.56},{"s":"Portogallo","d":"2015-04-08","v":1.46},{"s":"Portogallo","d":"2015-04-15","v":1.93},{"s":"Portogallo","d":"2015-04-29","v":1.72},{"s":"Portogallo","d":"2015-05-13","v":1.67},{"s":"Portogallo","d":"2015-05-26","v":2.08},{"s":"Portogallo","d":"2015-06-03","v":2.10},{"s":"Portogallo","d":"2015-06-17","v":2.30},{"s":"Portogallo","d":"2015-06-24","v":1.79},{"s":"Portogallo","d":"2015-07-01","v":2.15},{"s":"Portogallo","d":"2015-07-08","v":1.91},{"s":"Portogallo","d":"2015-07-16","v":1.83},{"s":"Portogallo","d":"2015-07-30","v":1.73},{"s":"Portogallo","d":"2015-08-08","v":1.79},{"s":"Portogallo","d":"2015-08-18","v":2.06},{"s":"Portogallo","d":"2015-08-28","v":1.85},{"s":"Portogallo","d":"2015-09-12","v":1.97},{"s":"Portogallo","d":"2015-09-21","v":1.87},{"s":"Portogallo","d":"2015-10-08","v":1.79},{"s":"Portogallo","d":"2015-10-25","v":2.01},{"s":"Portogallo","d":"2015-11-03","v":2.00},{"s":"Portogallo","d":"2015-11-10","v":2.20},{"s":"Portogallo","d":"2015-11-23","v":1.91},{"s":"Portogallo","d":"2015-12-02","v":1.81},{"s":"Portogallo","d":"2015-12-16","v":1.95},{"s":"Portogallo","d":"2015-12-31","v":1.89},
{"s":"Portogallo","d":"2016-01-03","v":1.91},{"s":"Portogallo","d":"2016-01-14","v":2.19},{"s":"Portogallo","d":"2016-01-22","v":2.56},{"s":"Portogallo","d":"2016-01-29","v":2.56},{"s":"Portogallo","d":"2016-02-06","v":2.82},{"s":"Portogallo","d":"2016-02-11","v":3.48},{"s":"Portogallo","d":"2016-02-26","v":2.94},{"s":"Portogallo","d":"2016-03-02","v":2.87},{"s":"Portogallo","d":"2016-03-10","v":2.66},{"s":"Portogallo","d":"2016-03-18","v":2.72},{"s":"Portogallo","d":"2016-03-24","v":2.79},{"s":"Portogallo","d":"2016-03-31","v":2.79},{"s":"Portogallo","d":"2016-04-07","v":3.25},{"s":"Portogallo","d":"2016-04-14","v":3.04},{"s":"Portogallo","d":"2016-04-23","v":3.06},{"s":"Portogallo","d":"2016-04-28","v":2.90},{"s":"Portogallo","d":"2016-05-05","v":3.17},{"s":"Portogallo","d":"2016-05-18","v":2.95},{"s":"Portogallo","d":"2016-05-26","v":2.91},{"s":"Portogallo","d":"2016-06-02","v":3.10},{"s":"Portogallo","d":"2016-06-09","v":3.09},{"s":"Portogallo","d":"2016-06-16","v":3.29},{"s":"Portogallo","d":"2016-06-23","v":3.40},{"s":"Portogallo","d":"2016-06-30","v":3.14},{"s":"Portogallo","d":"2016-07-07","v":3.27},{"s":"Portogallo","d":"2016-07-18","v":3.12},{"s":"Portogallo","d":"2016-07-29","v":3.05},{"s":"Portogallo","d":"2016-08-11","v":2.82},{"s":"Portogallo","d":"2016-08-17","v":3.04},{"s":"Portogallo","d":"2016-08-24","v":3.12},{"s":"Portogallo","d":"2016-09-01","v":3.09},{"s":"Portogallo","d":"2016-09-10","v":3.16},{"s":"Portogallo","d":"2016-09-16","v":3.40},{"s":"Portogallo","d":"2016-09-23","v":3.45},{"s":"Portogallo","d":"2016-09-30","v":3.44},{"s":"Portogallo","d":"2016-10-07","v":3.55},{"s":"Portogallo","d":"2016-10-13","v":3.24},{"s":"Portogallo","d":"2016-10-21","v":3.18},{"s":"Portogallo","d":"2016-11-05","v":3.16},{"s":"Portogallo","d":"2016-11-12","v":3.18},{"s":"Portogallo","d":"2016-11-20","v":3.58},{"s":"Portogallo","d":"2016-11-25","v":3.36},{"s":"Portogallo","d":"2016-12-09","v":3.48},{"s":"Portogallo","d":"2016-12-16","v":3.49},{"s":"Portogallo","d":"2016-12-31","v":3.55},
{"s":"Portogallo","d":"2017-01-06","v":3.75},{"s":"Portogallo","d":"2017-01-20","v":3.45},{"s":"Portogallo","d":"2017-01-28","v":3.68},{"s":"Portogallo","d":"2017-02-05","v":3.77},{"s":"Portogallo","d":"2017-02-12","v":3.80},{"s":"Portogallo","d":"2017-02-19","v":3.73},{"s":"Portogallo","d":"2017-02-25","v":3.75},{"s":"Portogallo","d":"2017-03-01","v":3.58},{"s":"Portogallo","d":"2017-03-07","v":3.57},{"s":"Portogallo","d":"2017-03-14","v":3.85},{"s":"Portogallo","d":"2017-03-20","v":3.75},{"s":"Portogallo","d":"2017-03-30","v":3.65},{"s":"Portogallo","d":"2017-04-07","v":3.64},{"s":"Portogallo","d":"2017-04-13","v":3.69},{"s":"Portogallo","d":"2017-04-21","v":3.39},{"s":"Portogallo","d":"2017-05-02","v":2.98},{"s":"Portogallo","d":"2017-05-10","v":2.98},{"s":"Portogallo","d":"2017-05-17","v":2.82},{"s":"Portogallo","d":"2017-05-26","v":2.81},{"s":"Portogallo","d":"2017-06-02","v":2.76},{"s":"Portogallo","d":"2017-06-08","v":2.75},{"s":"Portogallo","d":"2017-06-15","v":2.63},{"s":"Portogallo","d":"2017-06-21","v":2.66},{"s":"Portogallo","d":"2017-06-28","v":2.56},{"s":"Portogallo","d":"2017-07-06","v":2.58},{"s":"Portogallo","d":"2017-07-14","v":2.54},{"s":"Portogallo","d":"2017-07-19","v":2.41},{"s":"Portogallo","d":"2017-07-31","v":2.39},{"s":"Portogallo","d":"2017-08-10","v":2.47},{"s":"Portogallo","d":"2017-08-18","v":2.36},{"s":"Portogallo","d":"2017-08-25","v":2.49},{"s":"Portogallo","d":"2017-09-01","v":2.47},{"s":"Portogallo","d":"2017-09-07","v":2.48},{"s":"Portogallo","d":"2017-09-14","v":2.37},{"s":"Portogallo","d":"2017-09-20","v":2.00},{"s":"Portogallo","d":"2017-09-28","v":1.93},{"s":"Portogallo","d":"2017-10-07","v":1.94},{"s":"Portogallo","d":"2017-10-16","v":1.86},{"s":"Portogallo","d":"2017-10-29","v":1.75},{"s":"Portogallo","d":"2017-11-07","v":1.67},{"s":"Portogallo","d":"2017-11-20","v":1.61},{"s":"Portogallo","d":"2017-11-28","v":1.57},{"s":"Portogallo","d":"2017-12-05","v":1.49},{"s":"Portogallo","d":"2017-12-14","v":1.53},{"s":"Portogallo","d":"2017-12-21","v":1.42},{"s":"Portogallo","d":"2017-12-27","v":1.50},
{"s":"Portogallo","d":"2018-01-04","v":1.41},{"s":"Portogallo","d":"2018-01-11","v":1.20},{"s":"Portogallo","d":"2018-01-18","v":1.41},{"s":"Portogallo","d":"2018-01-28","v":1.26},{"s":"Portogallo","d":"2018-02-05","v":1.35},{"s":"Portogallo","d":"2018-02-12","v":1.27},{"s":"Portogallo","d":"2018-02-23","v":1.35},{"s":"Portogallo","d":"2018-03-03","v":1.20},{"s":"Portogallo","d":"2018-03-13","v":1.19},{"s":"Portogallo","d":"2018-03-20","v":1.18},{"s":"Portogallo","d":"2018-03-27","v":1.11},{"s":"Portogallo","d":"2018-04-03","v":1.18},{"s":"Portogallo","d":"2018-04-12","v":1.12},{"s":"Portogallo","d":"2018-04-19","v":1.07},{"s":"Portogallo","d":"2018-04-27","v":1.08},{"s":"Portogallo","d":"2018-05-10","v":1.13},{"s":"Portogallo","d":"2018-05-17","v":1.31},{"s":"Portogallo","d":"2018-05-23","v":1.58},{"s":"Portogallo","d":"2018-05-28","v":1.48},{"s":"Portogallo","d":"2018-06-05","v":1.60},{"s":"Portogallo","d":"2018-06-15","v":1.48},{"s":"Portogallo","d":"2018-06-24","v":1.50},{"s":"Portogallo","d":"2018-07-04","v":1.50},{"s":"Portogallo","d":"2018-07-11","v":1.41},{"s":"Portogallo","d":"2018-07-18","v":1.42},{"s":"Portogallo","d":"2018-07-26","v":1.33},{"s":"Portogallo","d":"2018-08-07","v":1.44},{"s":"Portogallo","d":"2018-08-17","v":1.55},{"s":"Portogallo","d":"2018-08-24","v":1.48},{"s":"Portogallo","d":"2018-08-30","v":1.58},{"s":"Portogallo","d":"2018-09-08","v":1.49},{"s":"Portogallo","d":"2018-09-18","v":1.41},{"s":"Portogallo","d":"2018-09-26","v":1.41},{"s":"Portogallo","d":"2018-10-03","v":1.37},{"s":"Portogallo","d":"2018-10-10","v":1.55},{"s":"Portogallo","d":"2018-10-23","v":1.56},{"s":"Portogallo","d":"2018-10-30","v":1.46},{"s":"Portogallo","d":"2018-11-07","v":1.55},{"s":"Portogallo","d":"2018-11-16","v":1.60},{"s":"Portogallo","d":"2018-11-26","v":1.56},{"s":"Portogallo","d":"2018-12-01","v":1.50},{"s":"Portogallo","d":"2018-12-06","v":1.57},{"s":"Portogallo","d":"2018-12-13","v":1.42},{"s":"Portogallo","d":"2018-12-21","v":1.46},{"s":"Portogallo","d":"2018-12-29","v":1.49},{"s":"Portogallo","d":"2019-01-04","v":1.58},{"s":"Portogallo","d":"2019-01-13","v":1.46},
{"s":"Spagna","d":"2015-01-01","v":1.01},{"s":"Spagna","d":"2015-01-08","v":1.19},{"s":"Spagna","d":"2015-01-15","v":1.05},{"s":"Spagna","d":"2015-01-22","v":1.08},{"s":"Spagna","d":"2015-01-30","v":1.11},{"s":"Spagna","d":"2015-02-07","v":1.14},{"s":"Spagna","d":"2015-02-14","v":1.20},{"s":"Spagna","d":"2015-02-21","v":1.09},{"s":"Spagna","d":"2015-03-02","v":0.95},{"s":"Spagna","d":"2015-03-09","v":0.91},{"s":"Spagna","d":"2015-03-16","v":0.97},{"s":"Spagna","d":"2015-03-26","v":1.08},{"s":"Spagna","d":"2015-04-10","v":1.08},{"s":"Spagna","d":"2015-04-17","v":1.37},{"s":"Spagna","d":"2015-04-22","v":1.26},{"s":"Spagna","d":"2015-04-27","v":1.16},{"s":"Spagna","d":"2015-05-09","v":1.11},{"s":"Spagna","d":"2015-05-19","v":1.23},{"s":"Spagna","d":"2015-05-30","v":1.37},{"s":"Spagna","d":"2015-06-10","v":1.38},{"s":"Spagna","d":"2015-06-17","v":1.48},{"s":"Spagna","d":"2015-06-24","v":1.20},{"s":"Spagna","d":"2015-06-29","v":1.31},{"s":"Spagna","d":"2015-07-03","v":1.41},{"s":"Spagna","d":"2015-07-08","v":1.26},{"s":"Spagna","d":"2015-07-17","v":1.16},{"s":"Spagna","d":"2015-07-30","v":1.21},{"s":"Spagna","d":"2015-08-08","v":1.32},{"s":"Spagna","d":"2015-08-15","v":1.39},{"s":"Spagna","d":"2015-08-21","v":1.44},{"s":"Spagna","d":"2015-08-30","v":1.36},{"s":"Spagna","d":"2015-09-09","v":1.45},{"s":"Spagna","d":"2015-09-16","v":1.38},{"s":"Spagna","d":"2015-09-19","v":1.28},{"s":"Spagna","d":"2015-09-23","v":1.37},{"s":"Spagna","d":"2015-09-30","v":1.26},{"s":"Spagna","d":"2015-10-15","v":1.20},{"s":"Spagna","d":"2015-10-26","v":1.16},{"s":"Spagna","d":"2015-11-03","v":1.20},{"s":"Spagna","d":"2015-11-10","v":1.23},{"s":"Spagna","d":"2015-11-17","v":1.18},{"s":"Spagna","d":"2015-11-24","v":1.08},{"s":"Spagna","d":"2015-12-12","v":1.09},{"s":"Spagna","d":"2015-12-26","v":1.19},{"s":"Spagna","d":"2015-12-31","v":1.15},
{"s":"Spagna","d":"2016-01-07","v":1.18},{"s":"Spagna","d":"2016-01-17","v":1.22},{"s":"Spagna","d":"2016-02-01","v":1.20},{"s":"Spagna","d":"2016-02-08","v":1.42},{"s":"Spagna","d":"2016-02-18","v":1.49},{"s":"Spagna","d":"2016-02-26","v":1.42},{"s":"Spagna","d":"2016-03-02","v":1.31},{"s":"Spagna","d":"2016-03-11","v":1.22},{"s":"Spagna","d":"2016-03-21","v":1.32},{"s":"Spagna","d":"2016-03-28","v":1.38},{"s":"Spagna","d":"2016-04-02","v":1.34},{"s":"Spagna","d":"2016-04-08","v":1.41},{"s":"Spagna","d":"2016-04-18","v":1.37},{"s":"Spagna","d":"2016-04-30","v":1.36},{"s":"Spagna","d":"2016-05-11","v":1.46},{"s":"Spagna","d":"2016-05-15","v":1.41},{"s":"Spagna","d":"2016-05-22","v":1.34},{"s":"Spagna","d":"2016-05-29","v":1.27},{"s":"Spagna","d":"2016-06-09","v":1.42},{"s":"Spagna","d":"2016-06-16","v":1.56},{"s":"Spagna","d":"2016-06-23","v":1.67},{"s":"Spagna","d":"2016-06-27","v":1.50},{"s":"Spagna","d":"2016-06-30","v":1.30},{"s":"Spagna","d":"2016-07-10","v":1.24},{"s":"Spagna","d":"2016-07-19","v":1.15},{"s":"Spagna","d":"2016-08-06","v":1.07},{"s":"Spagna","d":"2016-08-20","v":0.99},{"s":"Spagna","d":"2016-09-04","v":1.07},{"s":"Spagna","d":"2016-09-18","v":1.05},{"s":"Spagna","d":"2016-09-28","v":1.01},{"s":"Spagna","d":"2016-10-05","v":0.99},{"s":"Spagna","d":"2016-10-17","v":1.09},{"s":"Spagna","d":"2016-10-31","v":1.09},{"s":"Spagna","d":"2016-11-11","v":1.18},{"s":"Spagna","d":"2016-11-18","v":1.32},{"s":"Spagna","d":"2016-11-25","v":1.28},{"s":"Spagna","d":"2016-12-04","v":1.20},{"s":"Spagna","d":"2016-12-16","v":1.11},{"s":"Spagna","d":"2016-12-31","v":1.24},
{"s":"Spagna","d":"2017-01-12","v":1.12},{"s":"Spagna","d":"2017-01-28","v":1.12},{"s":"Spagna","d":"2017-02-03","v":1.23},{"s":"Spagna","d":"2017-02-10","v":1.36},{"s":"Spagna","d":"2017-02-17","v":1.42},{"s":"Spagna","d":"2017-02-25","v":1.48},{"s":"Spagna","d":"2017-03-01","v":1.40},{"s":"Spagna","d":"2017-03-09","v":1.41},{"s":"Spagna","d":"2017-03-16","v":1.35},{"s":"Spagna","d":"2017-03-26","v":1.34},{"s":"Spagna","d":"2017-04-07","v":1.42},{"s":"Spagna","d":"2017-04-14","v":1.49},{"s":"Spagna","d":"2017-04-21","v":1.38},{"s":"Spagna","d":"2017-04-28","v":1.30},{"s":"Spagna","d":"2017-05-05","v":1.19},{"s":"Spagna","d":"2017-05-20","v":1.20},{"s":"Spagna","d":"2017-05-30","v":1.27},{"s":"Spagna","d":"2017-06-07","v":1.22},{"s":"Spagna","d":"2017-06-15","v":1.15},{"s":"Spagna","d":"2017-06-29","v":1.08},{"s":"Spagna","d":"2017-07-09","v":1.09},{"s":"Spagna","d":"2017-07-19","v":0.95},{"s":"Spagna","d":"2017-08-05","v":1.03},{"s":"Spagna","d":"2017-08-18","v":1.12},{"s":"Spagna","d":"2017-08-26","v":1.22},{"s":"Spagna","d":"2017-09-09","v":1.22},{"s":"Spagna","d":"2017-09-16","v":1.19},{"s":"Spagna","d":"2017-09-25","v":1.16},{"s":"Spagna","d":"2017-10-04","v":1.22},{"s":"Spagna","d":"2017-10-16","v":1.20},{"s":"Spagna","d":"2017-10-30","v":1.12},{"s":"Spagna","d":"2017-11-06","v":1.15},{"s":"Spagna","d":"2017-11-14","v":1.18},{"s":"Spagna","d":"2017-11-24","v":1.12},{"s":"Spagna","d":"2017-12-08","v":1.09},{"s":"Spagna","d":"2017-12-18","v":1.11},{"s":"Spagna","d":"2017-12-27","v":1.14},
{"s":"Spagna","d":"2018-01-02","v":1.09},{"s":"Spagna","d":"2018-01-09","v":1.00},{"s":"Spagna","d":"2018-01-16","v":0.90},{"s":"Spagna","d":"2018-01-23","v":0.79},{"s":"Spagna","d":"2018-02-05","v":0.71},{"s":"Spagna","d":"2018-02-12","v":0.74},{"s":"Spagna","d":"2018-02-19","v":0.85},{"s":"Spagna","d":"2018-02-26","v":0.91},{"s":"Spagna","d":"2018-03-06","v":0.82},{"s":"Spagna","d":"2018-03-18","v":0.77},{"s":"Spagna","d":"2018-03-29","v":0.67},{"s":"Spagna","d":"2018-04-04","v":0.72},{"s":"Spagna","d":"2018-04-23","v":0.68},{"s":"Spagna","d":"2018-05-07","v":0.72},{"s":"Spagna","d":"2018-05-14","v":0.81},{"s":"Spagna","d":"2018-05-18","v":0.98},{"s":"Spagna","d":"2018-06-01","v":1.04},{"s":"Spagna","d":"2018-06-09","v":0.95},{"s":"Spagna","d":"2018-06-17","v":1.01},{"s":"Spagna","d":"2018-06-30","v":1.02},{"s":"Spagna","d":"2018-07-06","v":0.97},{"s":"Spagna","d":"2018-07-21","v":0.95},{"s":"Spagna","d":"2018-08-05","v":1.03},{"s":"Spagna","d":"2018-08-14","v":1.14},{"s":"Spagna","d":"2018-08-21","v":1.07},{"s":"Spagna","d":"2018-08-28","v":1.11},{"s":"Spagna","d":"2018-09-08","v":1.07},{"s":"Spagna","d":"2018-09-26","v":1.02},{"s":"Spagna","d":"2018-10-06","v":1.08},{"s":"Spagna","d":"2018-10-16","v":1.24},{"s":"Spagna","d":"2018-10-27","v":1.19},{"s":"Spagna","d":"2018-11-05","v":1.18},{"s":"Spagna","d":"2018-11-12","v":1.24},{"s":"Spagna","d":"2018-11-22","v":1.28},{"s":"Spagna","d":"2018-11-30","v":1.19},{"s":"Spagna","d":"2018-12-20","v":1.15},{"s":"Spagna","d":"2019-01-01","v":1.26},{"s":"Spagna","d":"2019-01-11","v":1.20}
]},
"layer":[
{"mark":{"type":"line","strokeJoin":"round","strokeCap":"butt"},
 "encoding":{
  "x":{"field":"d","type":"temporal","scale":{"domain":[{"year":2015,"month":1,"date":1},{"year":2019,"month":1,"date":30}],"nice":false},
   "axis":{"orient":"bottom","tickCount":{"interval":"month","step":1},"labels":false,"ticks":false,"domain":true,"domainColor":"#666666","domainWidth":1.5,"grid":true,"gridColor":"#555555","gridWidth":1.2,"gridOpacity":{"condition":{"test":"month(datum.value)==0","value":1},"value":0}}},
  "y":{"field":"v","type":"quantitative","scale":{"domain":[0,4],"nice":false},
   "axis":{"orient":"left","values":[0,1,2,3,4],"ticks":false,"domain":false,"labelPadding":23,"grid":true,"gridColor":"#3d3d3d","gridWidth":2,"gridOpacity":{"condition":{"test":"datum.value==0||datum.value==4","value":0},"value":1}}},
  "color":{"field":"s","type":"nominal","scale":{"domain":["Belgio","Francia","Irlanda","Italia","Portogallo","Spagna"],"range":["#959595","#5cb334","#7b2180","#000000","#5cc3e2","#2d4e9c"]},
   "legend":{"title":null,"orient":"none","legendX":-48,"legendY":552,"direction":"horizontal","columns":6}},
  "strokeDash":{"field":"s","type":"nominal","scale":{"domain":["Belgio","Francia","Irlanda","Italia","Portogallo","Spagna"],"range":[[1,0],[1,0],[1,0],[1,0],[1,0],[16,7,2,7]]},
   "legend":{"title":null,"orient":"none","legendX":-48,"legendY":552,"direction":"horizontal","columns":6}},
  "strokeWidth":{"field":"s","type":"nominal","scale":{"domain":["Belgio","Francia","Irlanda","Italia","Portogallo","Spagna"],"range":[3,3,3,5.5,3.2,3.2]},"legend":null}
 }},
{"mark":{"type":"point","opacity":0},
 "encoding":{
  "x":{"field":"d","type":"temporal",
   "axis":{"orient":"bottom","values":[{"year":2015,"month":7,"date":1},{"year":2016,"month":7,"date":1},{"year":2017,"month":7,"date":1},{"year":2018,"month":7,"date":1},{"year":2019,"month":1,"date":11}],"labelExpr":"year(datum.value)==2019 ? '‘19' : timeFormat(datum.value,'%Y')","ticks":false,"labelPadding":23,"domain":false,"grid":false}},
  "y":{"field":"v","type":"quantitative",
   "axis":{"orient":"right","values":[0,1,2,3,4],"ticks":false,"domain":false,"labelPadding":23,"grid":false}}
 }},
{"mark":{"type":"point","opacity":0},
 "encoding":{
  "x":{"field":"d","type":"temporal",
   "axis":{"orient":"bottom","offset":-8,"tickCount":{"interval":"month","step":1},"ticks":true,"tickSize":8,"tickColor":"#444444","tickWidth":1.5,"labels":false,"domain":false,"grid":false}},
  "y":{"field":"v","type":"quantitative","axis":null}
 }},
{"mark":{"type":"point","opacity":0},
 "encoding":{
  "x":{"field":"d","type":"temporal",
   "axis":{"orient":"bottom","offset":-15,"values":[{"year":2015,"month":7,"date":1},{"year":2016,"month":7,"date":1},{"year":2017,"month":7,"date":1},{"year":2018,"month":7,"date":1}],"ticks":true,"tickSize":15,"tickColor":"#444444","tickWidth":1.5,"labels":false,"domain":false,"grid":false}},
  "y":{"field":"v","type":"quantitative","axis":null}
 }}
],
"resolve":{"axis":{"x":"independent","y":"independent"}}
}
